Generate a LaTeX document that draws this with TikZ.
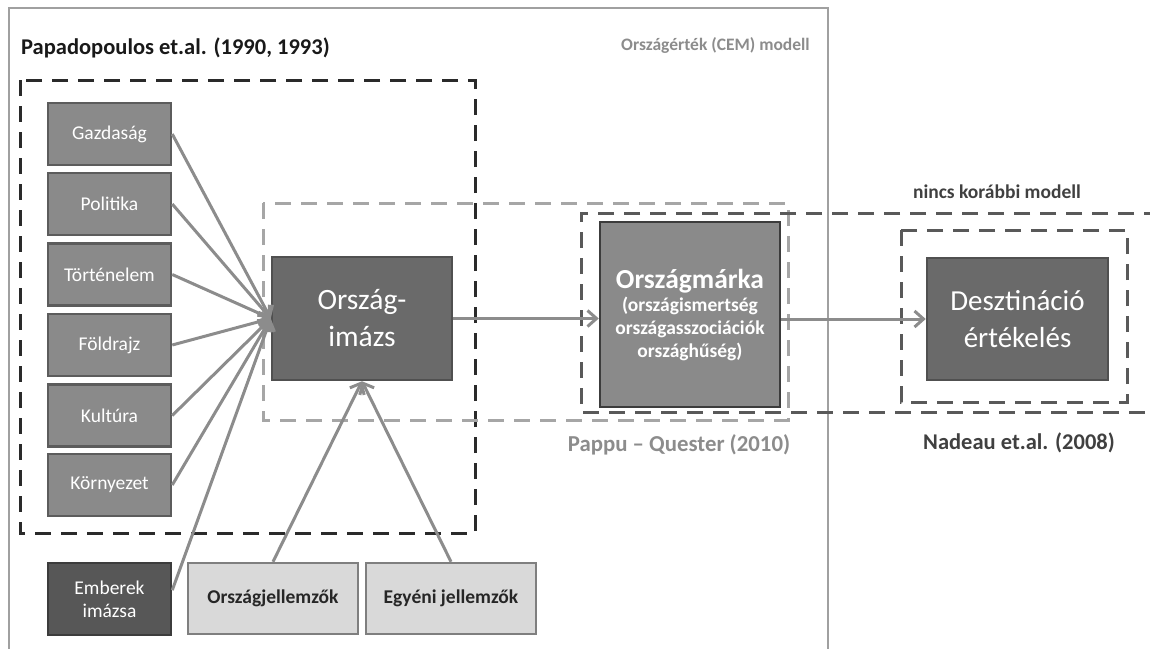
\documentclass[tikz,border=0pt]{standalone}
\usepackage{fontspec}
\setmainfont{Carlito}
\usetikzlibrary{arrows.meta}
\definecolor{boxmid}{HTML}{8A8A8A}
\definecolor{boxmidline}{HTML}{5C5C5C}
\definecolor{boxdark}{HTML}{6A6A6A}
\definecolor{boxdarkline}{HTML}{505050}
\definecolor{boxdeep}{HTML}{575757}
\definecolor{boxdeepline}{HTML}{3C3C3C}
\definecolor{boxlight}{HTML}{D9D9D9}
\definecolor{boxlightline}{HTML}{7F7F7F}
\definecolor{arrowgray}{HTML}{8C8C8C}
\definecolor{framegray}{HTML}{A0A0A0}
\definecolor{dashblack}{HTML}{2A2A2A}
\definecolor{dashlight}{HTML}{A6A6A6}
\definecolor{dashdark}{HTML}{595959}
\definecolor{labelgray}{HTML}{8C8C8C}
\definecolor{labeldark}{HTML}{404040}
\newcommand{\fs}[2]{\fontsize{#1}{#2}\selectfont}
\tikzset{
  factor/.style={draw=boxmidline, fill=boxmid, line width=2.5pt, minimum width=123pt, minimum height=62pt, inner sep=0pt, text=white, font=\fs{19.5}{23}},
  lightbox/.style={draw=boxlightline, fill=boxlight, line width=2.5pt, minimum width=170pt, minimum height=71pt, inner sep=0pt, text=black!85, font=\bfseries\fs{19.5}{23}},
  conn/.style={draw=arrowgray, line width=3pt, -{Straight Barb[length=9pt,width=16pt,line width=3pt]}},
  blackdash/.style={draw=dashblack, line width=3pt, dash pattern=on 16pt off 10pt},
  lightdash/.style={draw=dashlight, line width=3pt, dash pattern=on 16pt off 10pt},
  darkdash/.style={draw=dashdark, line width=3pt, dash pattern=on 16pt off 10pt},
  caption/.style={inner sep=0pt, font=\bfseries\fs{21}{25}},
}
\begin{document}
\begin{tikzpicture}[x=1pt,y=-1pt]
\useasboundingbox (0,0) rectangle (1150,648);
% outer CEM frame
\draw[framegray, line width=1.5pt] (9,660) -- (9,8) -- (828,8) -- (828,660);
% dashed groupings
\draw[blackdash] (20,80) rectangle (475,533);
\draw[lightdash] (263,203) rectangle (788,420);
\draw[darkdash] (1160,213) -- (581,213) -- (581,412) -- (1160,412);
\draw[darkdash] (901,230) rectangle (1127,402);
% labels
\node[caption, anchor=west, text=black!90, font=\bfseries\fs{22.5}{26}] (title) at (21,48) {Papadopoulos et.al. (1990, 1993)};
\node[caption, anchor=east, text=labelgray, font=\bfseries\fs{17.5}{21}] (cem) at (810,45) {Országérték (CEM) modell};
\node[caption, text=labeldark, font=\bfseries\fs{19.5}{23}] (nincs) at (997,192) {nincs korábbi modell};
\node[caption, text=labelgray, font=\bfseries\fs{22.8}{26}] (pappu) at (679,445) {Pappu -- Quester (2010)};
\node[caption, text=labeldark, font=\bfseries\fs{22.5}{26}] (nadeau) at (1019,443) {Nadeau et.al. (2008)};
% factor boxes
\node[factor] (gaz) at (109.5,134) {Gazdaság};
\node[factor] (pol) at (109.5,204) {Politika};
\node[factor] (tor) at (109.5,274.5) {Történelem};
\node[factor] (fold) at (109.5,345) {Földrajz};
\node[factor] (kult) at (109.5,415.5) {Kultúra};
\node[factor] (korny) at (109.5,485) {Környezet};
\node[factor, fill=boxdeep, draw=boxdeepline, minimum height=72pt, align=center] (emb) at (109.5,599) {Emberek\\imázsa};
\node[lightbox] (oj) at (273,598.5) {Országjellemzők};
\node[lightbox] (egy) at (451,598.5) {Egyéni jellemzők};
% main boxes
\node[draw=boxdarkline, fill=boxdark, line width=2.5pt, minimum width=180pt, minimum height=123pt, inner sep=0pt, text=white, align=center, font=\fs{29.5}{37}] (oi) at (362,318.5) {Ország-\\imázs};
\node[draw=boxdeepline, fill=boxmid, line width=2.5pt, minimum width=180pt, minimum height=185pt, inner sep=0pt, text=white, align=center, font=\bfseries\fs{19.5}{23}] (om) at (690,314.5) {{\fs{27.5}{30}Országmárka}\\(országismertség\\országasszociációk\\országhűség)};
\node[draw=boxdarkline, fill=boxdark, line width=2.5pt, minimum width=181pt, minimum height=122pt, inner sep=0pt, text=white, align=center, font=\fs{29}{37}] (dest) at (1017.5,319) {Desztináció\\értékelés};
% connectors
\foreach \s in {gaz,pol,tor,fold,kult,korny}{
  \draw[conn] (\s.east) -- (oi.west);
}
\draw[conn] (emb.8) -- (oi.west);
\draw[conn] (oj.north) -- (oi.south);
\draw[conn] (egy.north) -- (oi.south);
\draw[conn] (oi.east) -- (oi.east -| om.west);
\draw[conn] (dest.west -| om.east) -- (dest.west);
\end{tikzpicture}
\end{document}
